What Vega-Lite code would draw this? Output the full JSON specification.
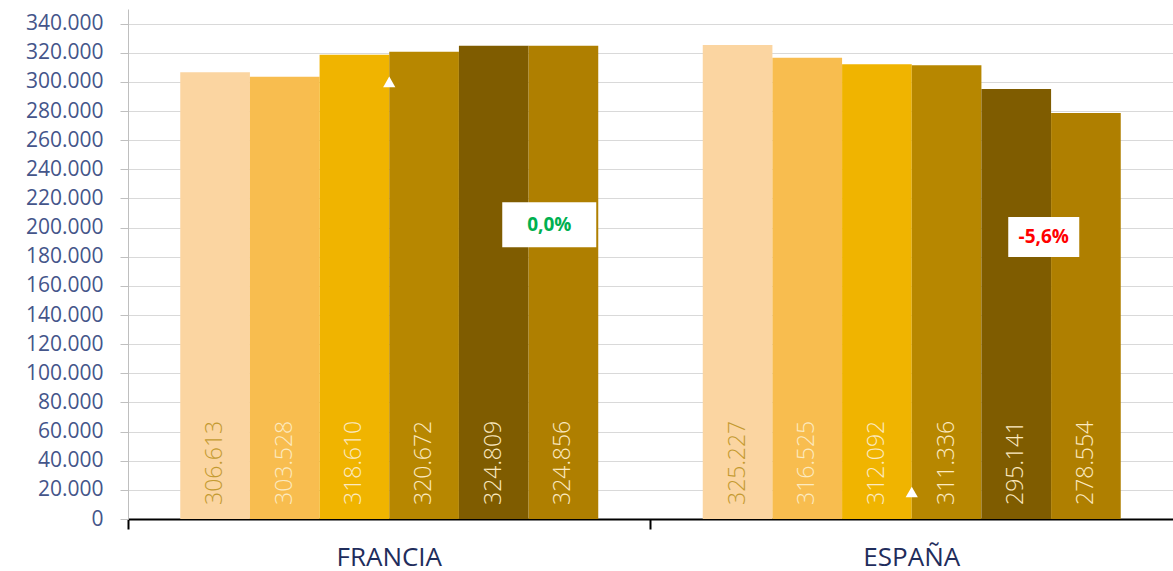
{
  "$schema": "https://vega.github.io/schema/vega-lite/v6.json",
  "width": 1045,
  "height": 510,
  "autosize": {"type": "none"},
  "padding": {"left": 128, "top": 9, "right": 0, "bottom": 52},
  "datasets": {
    "barras": [
      {"pais": "FRANCIA", "serie": 1, "valor": 306613},
      {"pais": "FRANCIA", "serie": 2, "valor": 303528},
      {"pais": "FRANCIA", "serie": 3, "valor": 318610},
      {"pais": "FRANCIA", "serie": 4, "valor": 320672},
      {"pais": "FRANCIA", "serie": 5, "valor": 324809},
      {"pais": "FRANCIA", "serie": 6, "valor": 324856},
      {"pais": "ESPAÑA", "serie": 1, "valor": 325227},
      {"pais": "ESPAÑA", "serie": 2, "valor": 316525},
      {"pais": "ESPAÑA", "serie": 3, "valor": 312092},
      {"pais": "ESPAÑA", "serie": 4, "valor": 311336},
      {"pais": "ESPAÑA", "serie": 5, "valor": 295141},
      {"pais": "ESPAÑA", "serie": 6, "valor": 278554}
    ],
    "variacion": [
      {"pais": "FRANCIA", "var": 0.0},
      {"pais": "ESPAÑA", "var": -0.056}
    ],
    "flechas": [
      {"pais": "FRANCIA", "valor": 300000},
      {"pais": "ESPAÑA", "valor": 18500}
    ]
  },
  "config": {
    "locale": {"number": {"decimal": ",", "thousands": ".", "grouping": [3], "currency": ["", " €"], "minus": "-"}},
    "view": {"stroke": null},
    "font": "Open Sans",
    "axisY": {
      "title": null, "format": ",d", "labelOverlap": false, "domainColor": "#BFBFBF", "tickColor": "#BFBFBF", "tickSize": 8,
      "labelPadding": 17, "labelFontSize": 21, "labelColor": "#44558A", "gridColor": "#D9D9D9"
    }
  },
  "layer": [
    {
      "data": {"name": "barras"},
      "mark": {"type": "bar"},
      "encoding": {
        "x": {
          "field": "pais", "type": "nominal",
          "scale": {"domain": ["FRANCIA", "ESPAÑA"], "paddingInner": 0.2, "paddingOuter": 0.1},
          "axis": {
            "title": null, "labelAngle": 0, "domainColor": "#000000", "domainWidth": 2,
            "tickColor": "#000000", "tickWidth": 2, "tickSize": 10, "bandPosition": -0.125,
            "labelFontSize": 26, "labelColor": "#1F2D5C", "labelPadding": 15, "grid": false
          }
        },
        "xOffset": {"field": "serie", "type": "nominal", "scale": {"paddingInner": 0, "paddingOuter": 0}},
        "y": {
          "field": "valor", "type": "quantitative",
          "scale": {"domain": [0, 350000], "nice": false},
          "axis": {"title": null, "values": [0, 20000, 40000, 60000, 80000, 100000, 120000, 140000, 160000, 180000, 200000, 220000, 240000, 260000, 280000, 300000, 320000, 340000]}
        },
        "color": {
          "field": "serie", "type": "nominal", "legend": null,
          "scale": {"domain": [1, 2, 3, 4, 5, 6], "range": ["#FBD5A1", "#F8BD4F", "#F0B400", "#B78700", "#7F5C00", "#AF7F00"]}
        }
      }
    },
    {
      "data": {"name": "barras"},
      "mark": {"type": "text", "angle": 270, "align": "left", "baseline": "middle", "dx": 14, "fontSize": 23, "fontWeight": 300},
      "encoding": {
        "x": {"field": "pais", "type": "nominal"},
        "xOffset": {"field": "serie", "type": "nominal"},
        "y": {"datum": 0, "axis": {"title": null, "values": [0, 20000, 40000, 60000, 80000, 100000, 120000, 140000, 160000, 180000, 200000, 220000, 240000, 260000, 280000, 300000, 320000, 340000]}},
        "text": {"field": "valor", "type": "quantitative", "format": ",d"},
        "color": {"condition": {"test": "datum.serie == 1", "value": "#C49A30"}, "value": "#FCEAC0"}
      }
    },
    {
      "data": {"name": "flechas"},
      "mark": {"type": "point", "shape": "triangle-up", "filled": true, "color": "#FFFFFF", "opacity": 1, "size": 150},
      "encoding": {
        "x": {"field": "pais", "type": "nominal"},
        "y": {"field": "valor", "type": "quantitative", "axis": {"title": null, "values": [0, 20000, 40000, 60000, 80000, 100000, 120000, 140000, 160000, 180000, 200000, 220000, 240000, 260000, 280000, 300000, 320000, 340000]}}
      }
    },
    {
      "data": {"name": "variacion"},
      "transform": [{"filter": "datum.pais == 'FRANCIA'"}],
      "mark": {"type": "point", "shape": "M-1,-0.4787L1,-0.4787L1,0.4787L-1,0.4787Z", "filled": true, "color": "#FFFFFF", "opacity": 1, "size": 8836},
      "encoding": {
        "x": {"field": "pais", "type": "nominal"},
        "xOffset": {"value": 369},
        "y": {"datum": 202000, "axis": {"title": null, "values": [0, 20000, 40000, 60000, 80000, 100000, 120000, 140000, 160000, 180000, 200000, 220000, 240000, 260000, 280000, 300000, 320000, 340000]}}
      }
    },
    {
      "data": {"name": "variacion"},
      "transform": [{"filter": "datum.pais == 'ESPAÑA'"}],
      "mark": {"type": "point", "shape": "M-1,-0.5634L1,-0.5634L1,0.5634L-1,0.5634Z", "filled": true, "color": "#FFFFFF", "opacity": 1, "size": 5041},
      "encoding": {
        "x": {"field": "pais", "type": "nominal"},
        "xOffset": {"value": 341},
        "y": {"datum": 193500, "axis": {"title": null, "values": [0, 20000, 40000, 60000, 80000, 100000, 120000, 140000, 160000, 180000, 200000, 220000, 240000, 260000, 280000, 300000, 320000, 340000]}}
      }
    },
    {
      "data": {"name": "variacion"},
      "transform": [{"filter": "datum.pais == 'FRANCIA'"}],
      "mark": {"type": "text", "fontSize": 19, "fontWeight": "bold", "dx": 160, "align": "center", "baseline": "middle"},
      "encoding": {
        "x": {"field": "pais", "type": "nominal"},
        "y": {"datum": 202000, "axis": {"title": null, "values": [0, 20000, 40000, 60000, 80000, 100000, 120000, 140000, 160000, 180000, 200000, 220000, 240000, 260000, 280000, 300000, 320000, 340000]}},
        "text": {"field": "var", "type": "quantitative", "format": ".1%"},
        "color": {"condition": {"test": "datum.var < 0", "value": "#FF0000"}, "value": "#00B050"}
      }
    },
    {
      "data": {"name": "variacion"},
      "transform": [{"filter": "datum.pais == 'ESPAÑA'"}],
      "mark": {"type": "text", "fontSize": 19, "fontWeight": "bold", "dx": 132, "align": "center", "baseline": "middle"},
      "encoding": {
        "x": {"field": "pais", "type": "nominal"},
        "y": {"datum": 193500, "axis": {"title": null, "values": [0, 20000, 40000, 60000, 80000, 100000, 120000, 140000, 160000, 180000, 200000, 220000, 240000, 260000, 280000, 300000, 320000, 340000]}},
        "text": {"field": "var", "type": "quantitative", "format": ".1%"},
        "color": {"condition": {"test": "datum.var < 0", "value": "#FF0000"}, "value": "#00B050"}
      }
    }
  ]
}
